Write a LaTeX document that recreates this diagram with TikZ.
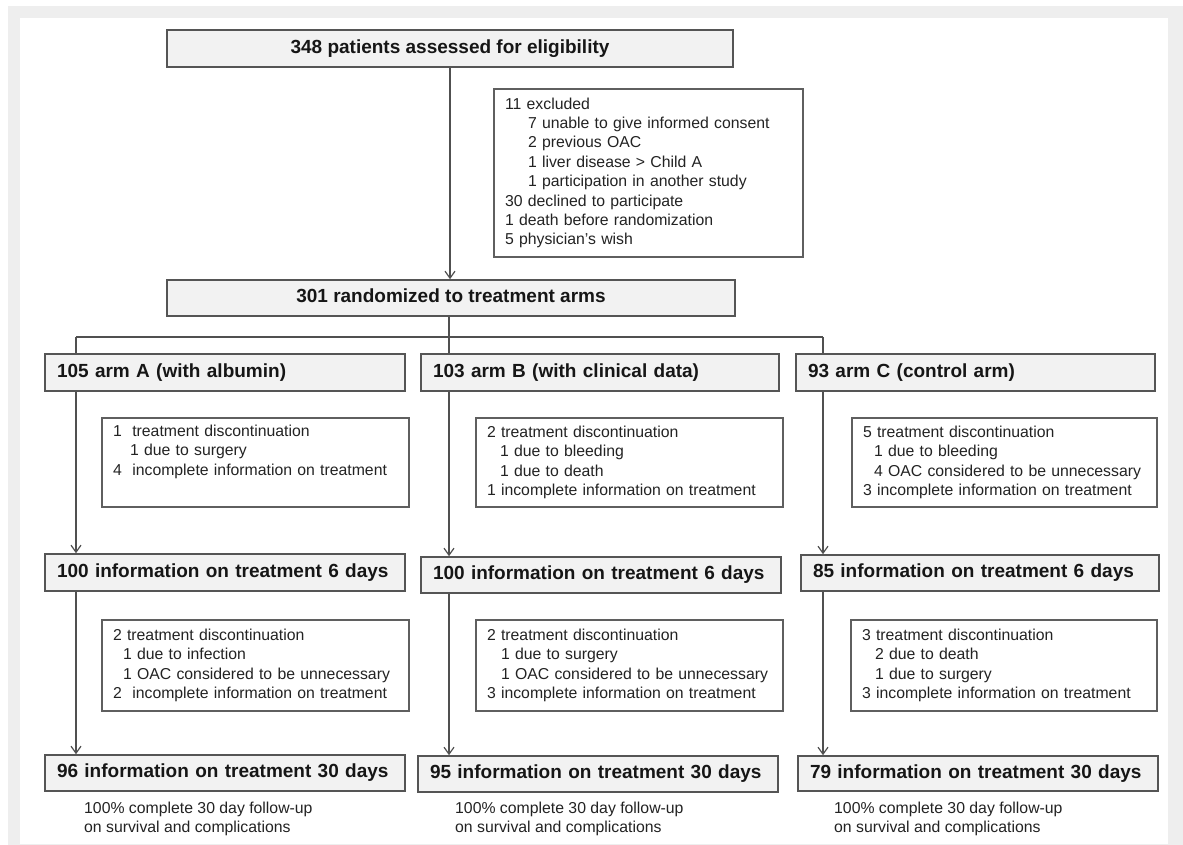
\documentclass[tikz,border=0pt]{standalone}
\usepackage{fontspec}
\setmainfont{Liberation Sans}
\usetikzlibrary{arrows.meta}
\definecolor{framegray}{RGB}{238,238,238}
\definecolor{hdrfill}{RGB}{242,242,242}
\definecolor{bordercol}{RGB}{85,85,85}
\definecolor{subborder}{RGB}{95,95,95}
\definecolor{linecol}{RGB}{80,80,80}
\definecolor{txt}{RGB}{22,22,22}
\definecolor{txtl}{RGB}{35,35,35}
\tikzset{
  hdr/.style={draw=bordercol, fill=hdrfill, line width=1.6pt, text=txt,
    font=\bfseries\fontsize{19}{22}\selectfont, inner xsep=12pt, inner ysep=0pt,
    text height=13.8pt, text depth=4pt, align=left},
  tophdr/.style={hdr, align=center},
  subbox/.style={draw=subborder, fill=white, line width=1.3pt, text=txtl,
    font=\fontsize{15.8}{19.4}\selectfont, inner xsep=11pt, inner ysep=0pt, align=left},
  foot/.style={text=txtl, font=\fontsize{15.8}{19}\selectfont, inner sep=0pt, align=left},
  conn/.style={draw=linecol, line width=1.2pt},
  arr/.style={conn, -{Straight Barb[length=7pt,width=10pt,line width=1.2pt]}}
}
\begin{document}
\begin{tikzpicture}[x=1pt,y=-1pt]
\useasboundingbox (0,0) rectangle (1183,845);
\fill[white] (0,0) rectangle (1183,845);
\fill[framegray] (8,6) rectangle (1183,845);
\fill[white] (20,18) rectangle (1168,844);

% junction coordinates
\coordinate (jA) at (76,337);
\coordinate (jB) at (449,337);
\coordinate (jC) at (823,337);

% top boxes
\node[tophdr, minimum width=566pt, minimum height=37pt] (top) at (450,48.5) {348 patients assessed for eligibility};
\node[tophdr, minimum width=568pt, minimum height=36pt] (rand) at (451,298) {301 randomized to treatment arms};

\node[subbox, text width=287pt, minimum height=168pt] (excl) at (648.5,173) {11 excluded\\
\hspace*{23pt}7 unable to give informed consent\\
\hspace*{23pt}2 previous OAC\\
\hspace*{23pt}1 liver disease > Child A\\
\hspace*{23pt}1 participation in another study\\
30 declined to participate\\
1 death before randomization\\
5 physician’s wish};

% arm headers
\node[hdr, text width=336pt, minimum height=37pt] (armA) at (225,372.5) {105 arm A (with albumin)};
\node[hdr, text width=334pt, minimum height=37pt] (armB) at (600,372.5) {103 arm B (with clinical data)};
\node[hdr, text width=335pt, minimum height=37pt] (armC) at (975.5,372.5) {93 arm C (control arm)};

% first exclusion boxes
\node[subbox, text width=285pt, minimum height=89pt] (subA1) at (255.5,462.5) {1\ \ treatment discontinuation\\
\hspace*{17pt}1 due to surgery\\
4\ \ incomplete information on treatment\\ \strut};
\node[subbox, text width=285pt, minimum height=89pt] (subB1) at (629.5,462.5) {2 treatment discontinuation\\
\hspace*{13pt}1 due to bleeding\\
\hspace*{13pt}1 due to death\\
1 incomplete information on treatment};
\node[subbox, text width=283pt, minimum height=89pt] (subC1) at (1004.5,462.5) {5 treatment discontinuation\\
\hspace*{11pt}1 due to bleeding\\
\hspace*{11pt}4 OAC considered to be unnecessary\\
3 incomplete information on treatment};

% 6 days
\node[hdr, text width=336pt, minimum height=37pt] (infoA6) at (225,572.5) {100 information on treatment 6 days};
\node[hdr, text width=336pt, minimum height=36pt] (infoB6) at (601,575) {100 information on treatment 6 days};
\node[hdr, text width=334pt, minimum height=36pt] (infoC6) at (980,573) {85 information on treatment 6 days};

% second exclusion boxes
\node[subbox, text width=285pt, minimum height=91pt] (subA2) at (255.5,665.5) {2 treatment discontinuation\\
\hspace*{10pt}1 due to infection\\
\hspace*{10pt}1 OAC considered to be unnecessary\\
2\ \ incomplete information on treatment};
\node[subbox, text width=285pt, minimum height=91pt] (subB2) at (629.5,665.5) {2 treatment discontinuation\\
\hspace*{14pt}1 due to surgery\\
\hspace*{14pt}1 OAC considered to be unnecessary\\
3 incomplete information on treatment};
\node[subbox, text width=284pt, minimum height=91pt] (subC2) at (1004,665.5) {3 treatment discontinuation\\
\hspace*{13pt}2 due to death\\
\hspace*{13pt}1 due to surgery\\
3 incomplete information on treatment};

% 30 days
\node[hdr, text width=336pt, minimum height=36pt] (infoA30) at (225,773) {96 information on treatment 30 days};
\node[hdr, text width=336pt, minimum height=36pt] (infoB30) at (598,774) {95 information on treatment 30 days};
\node[hdr, text width=336pt, minimum height=35pt] (infoC30) at (978,773.5) {79 information on treatment 30 days};

% footnotes
\node[foot, anchor=north west] (footA) at (84,802) {100\% complete 30 day follow-up\\on survival and complications};
\node[foot, anchor=north west] (footB) at (455,802) {100\% complete 30 day follow-up\\on survival and complications};
\node[foot, anchor=north west] (footC) at (834,802) {100\% complete 30 day follow-up\\on survival and complications};

% connectors
\draw[arr] (top.south) -- (top.south |- rand.north);
\draw[conn] (jB |- rand.south) -- (jB |- armB.north);
\draw[conn] (jA) -- (jC);
\draw[conn] (jA) -- (jA |- armA.north);
\draw[conn] (jC) -- (jC |- armC.north);
\draw[arr] (jA |- armA.south) -- (jA |- infoA6.north);
\draw[arr] (jB |- armB.south) -- (jB |- infoB6.north);
\draw[arr] (jC |- armC.south) -- (jC |- infoC6.north);
\draw[arr] (jA |- infoA6.south) -- (jA |- infoA30.north);
\draw[arr] (jB |- infoB6.south) -- (jB |- infoB30.north);
\draw[arr] (jC |- infoC6.south) -- (jC |- infoC30.north);
\end{tikzpicture}
\end{document}
